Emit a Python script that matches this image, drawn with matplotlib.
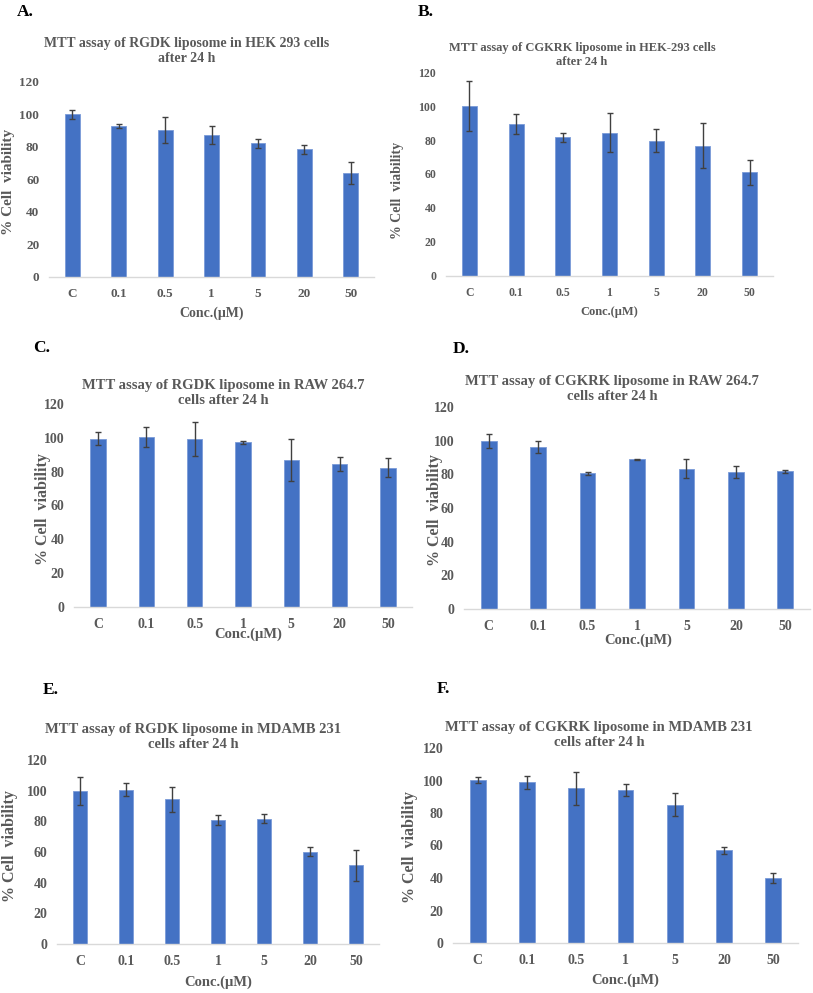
import numpy as np
import matplotlib.pyplot as plt

plt.rcParams['font.family'] = ['Liberation Serif', 'DejaVu Serif']
plt.rcParams['font.weight'] = 'bold'

conc = ["C", "0.1", "0.5", "1", "5", "20", "50"]

# % cell viability (mean) and error for each panel
rgdk_hek = [100.0, 93.0, 90.3, 87.3, 82.2, 78.6, 64.0]
rgdk_hek_err = [2.5, 1.2, 8.0, 5.7, 3.0, 2.8, 7.0]
cgkrk_hek = [100.0, 89.3, 81.6, 84.2, 79.7, 76.7, 60.9]
cgkrk_hek_err = [14.5, 6.0, 2.5, 11.5, 7.0, 13.4, 7.4]
rgdk_raw = [99.5, 100.4, 99.2, 97.4, 86.9, 84.4, 82.3]
rgdk_raw_err = [4.0, 6.0, 10.0, 0.8, 12.7, 4.0, 5.7]
cgkrk_raw = [99.6, 96.2, 80.6, 88.9, 83.4, 81.4, 81.8]
cgkrk_raw_err = [4.2, 3.4, 0.9, 0.3, 5.5, 3.3, 1.0]
rgdk_mda = [99.8, 100.7, 94.4, 80.9, 81.6, 60.3, 51.2]
rgdk_mda_err = [9.2, 4.5, 8.0, 3.5, 3.0, 3.2, 10.0]
cgkrk_mda = [100.1, 98.8, 95.1, 94.1, 85.2, 57.0, 40.1]
cgkrk_mda_err = [1.9, 4.0, 9.9, 3.9, 7.2, 2.1, 2.9]

titles = [
    "MTT assay of RGDK liposome in HEK 293 cells\nafter 24 h",
    "MTT assay of CGKRK liposome in HEK-293 cells\nafter 24 h",
    "MTT assay of RGDK liposome in RAW 264.7\ncells after 24 h",
    "MTT assay of CGKRK liposome in RAW 264.7\ncells after 24 h",
    "MTT assay of RGDK liposome in MDAMB 231\ncells after 24 h",
    "MTT assay of CGKRK liposome in MDAMB 231\ncells after 24 h",
]
letters = ["A.", "B.", "C.", "D.", "E.", "F."]
values = [rgdk_hek, cgkrk_hek, rgdk_raw, cgkrk_raw, rgdk_mda, cgkrk_mda]
errors = [rgdk_hek_err, cgkrk_hek_err, rgdk_raw_err, cgkrk_raw_err,
          rgdk_mda_err, cgkrk_mda_err]

W, H = 813, 993
# layout in pixels: axes x0, x1, y(120), y(0), letter xy, title xy,
# ylabel xy, xlabel xy, font scale
layout = [
    dict(ax=(49, 374, 82, 277), let=(17, 12), tit=(187, 51), yl=(9, 182), xl=(212, 313), fs=9.5),
    dict(ax=(446, 773, 72, 276), let=(418, 12), tit=(582, 55), yl=(397, 190), xl=(609, 312), fs=8.5),
    dict(ax=(74, 412, 404, 607), let=(33, 348), tit=(223, 393), yl=(43, 509), xl=(248, 634), fs=10),
    dict(ax=(464, 810, 407, 609), let=(453, 349), tit=(612, 389), yl=(435, 510), xl=(638, 640), fs=10),
    dict(ax=(57, 379, 760, 944), let=(43, 690), tit=(193, 737), yl=(10, 846), xl=(218, 982), fs=10),
    dict(ax=(453, 798, 748, 943), let=(437, 689), tit=(599, 735), yl=(410, 847), xl=(625, 980), fs=10),
]

grey = "#595959"
fig = plt.figure(figsize=(W / 100, H / 100), dpi=100)

for vals, errs, title, letter, lay in zip(values, errors, titles, letters, layout):
    x0, x1, ytop, ybot = lay["ax"]
    fs = lay["fs"]
    ax = fig.add_axes([x0 / W, 1 - ybot / H, (x1 - x0) / W, (ybot - ytop) / H])
    x = np.arange(len(conc))
    ax.bar(x, vals, width=0.32, color="#4472C4", edgecolor="#7a9bd8", linewidth=0.6,
           yerr=errs, error_kw=dict(ecolor="#404040", elinewidth=1.0, capsize=2.2, capthick=1.0))
    ax.set_xlim(-0.5, len(conc) - 0.5)
    ax.set_ylim(0, 120)
    ax.set_yticks(np.arange(0, 121, 20))
    ax.set_xticks(x)
    ax.set_xticklabels(conc)
    for s in ["top", "left", "right"]:
        ax.spines[s].set_visible(False)
    ax.spines["bottom"].set_color("#d9d9d9")
    ax.spines["bottom"].set_linewidth(1.0)
    ax.tick_params(length=0, labelsize=fs, labelcolor=grey)
    ax.tick_params(axis="y", pad=7)
    ax.tick_params(axis="x", pad=8)
    ax.patch.set_alpha(0)

    fig.text(lay["let"][0] / W, 1 - lay["let"][1] / H, letter, fontsize=12.5,
             fontweight="bold", color="black", va="center", ha="left")
    fig.text(lay["tit"][0] / W, 1 - lay["tit"][1] / H, title, fontsize=fs + 0.5,
             color=grey, ha="center", va="center", linespacing=1.25)
    fig.text(lay["yl"][0] / W, 1 - lay["yl"][1] / H, "% Cell  viability", fontsize=fs + 1.5,
             color=grey, rotation=90, ha="center", va="center")
    fig.text(lay["xl"][0] / W, 1 - lay["xl"][1] / H, "Conc.(\u03bcM)", fontsize=fs + 0.5,
             color=grey, ha="center", va="center")

fig.savefig("out.png", dpi=100)
